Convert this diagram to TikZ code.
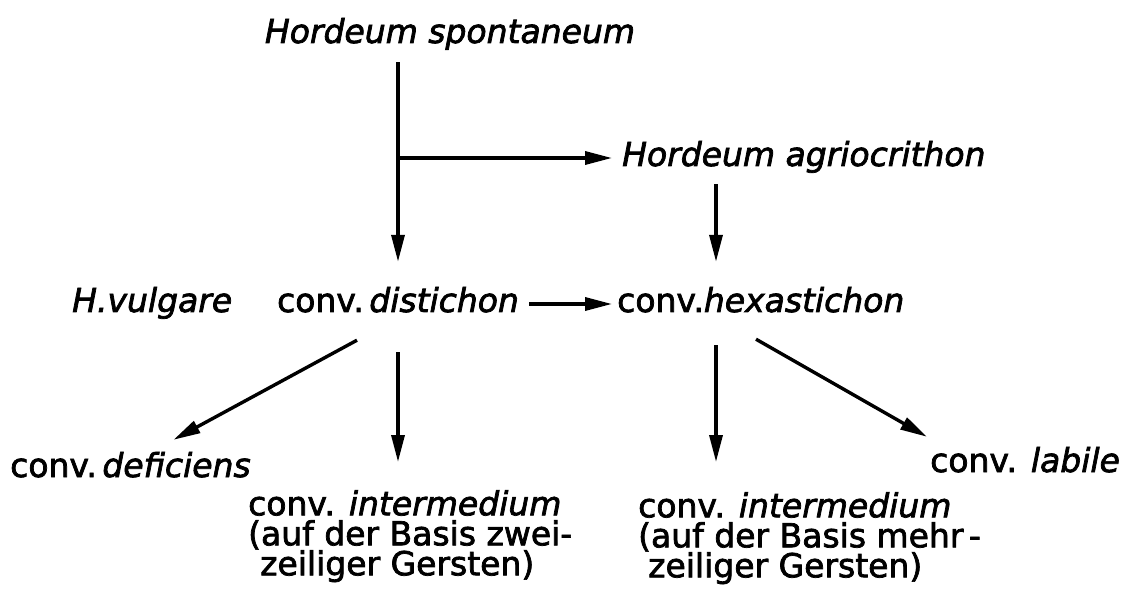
\documentclass[tikz,border=0pt]{standalone}
\usepackage{fontspec}
\setmainfont{DejaVu Sans}[BoldFont=DejaVu Sans,BoldFeatures={FakeBold=2.2},
    BoldItalicFont=DejaVu Sans Oblique,BoldItalicFeatures={FakeBold=2.2}]
\usetikzlibrary{positioning,arrows.meta}

\begin{document}
\begin{tikzpicture}[x=1pt,y=-1pt,
    lbl/.style={anchor=base west,inner sep=0pt,text height=24pt,text depth=8pt,
        font=\fontsize{33}{30}\selectfont\bfseries},
    block/.style={anchor=north west,inner sep=0pt,align=left,
        font=\fontsize{33}{30}\selectfont\bfseries},
    arr/.style={line width=3.4pt,-{Triangle[length=27pt,width=13pt]}}]
    \useasboundingbox (0,0) rectangle (1121,593);

    \node [lbl,anchor=base] (spont) at (450,43) {\itshape Hordeum spontaneum} ;
    \node [lbl] (agri) at (622,166) {\itshape Hordeum agriocrithon} ;
    \node [lbl] (vulg) at (72,312) {\itshape H.vulgare} ;
    \node [lbl,anchor=base] (dist) at (398,312) {conv.\,\textit{distichon}} ;
    \node [lbl] (hex) at (617,312) {conv.\textit{hexastichon}} ;
    \node [lbl] (defi) at (10,477) {conv.\,\textit{deficiens}} ;
    \node [lbl] (labi) at (930,472) {conv. \textit{labile}} ;
    \node [block] (intL) at (248,490)
        {conv. \textit{intermedium}\\(auf der Basis zwei-\\\hspace{12pt}zeiliger Gersten)} ;
    \node [block] (intR) at (638,492)
        {conv. \textit{intermedium}\\(auf der Basis mehr\,-\\\hspace{10pt}zeiliger Gersten)} ;
    \coordinate (rstem) at ([xshift=99pt]hex.south west) ;

    \draw [arr,shorten <=11pt,shorten >=26pt] (spont.south -| dist) -- (dist.north) ;
    \draw [arr,shorten >=10pt] (dist.north |- agri.west) -- (agri.west) ;
    \draw [arr,shorten <=10pt,shorten >=26pt] (agri.south -| rstem) -- (hex.north -| rstem) ;
    \draw [arr,shorten <=10pt,shorten >=5pt] (dist.east) -- (hex.west) ;
    \draw [arr] ([shift={(-41pt,-20pt)}]dist.south) -- ([shift={(43pt,13pt)}]defi.north) ;
    \draw [arr,shorten <=32pt,shorten >=28pt] (dist.south) -- (intL.north -| dist) ;
    \draw [arr,shorten <=25pt,shorten >=30pt] (rstem) -- (intR.north -| rstem) ;
    \draw [arr] ([shift={(139pt,-19pt)}]hex.south west) -- ([shift={(-3pt,11pt)}]labi.north west) ;
\end{tikzpicture}
\end{document}
